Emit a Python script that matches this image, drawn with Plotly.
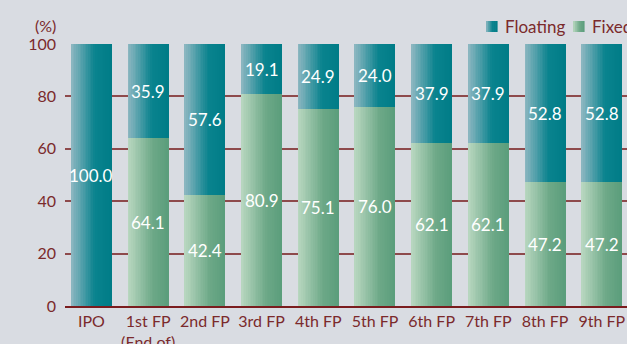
import plotly.graph_objects as go

# Interest rate mix per fiscal period (%)
periods = ["IPO", "1st FP<br>(End of)", "2nd FP", "3rd FP", "4th FP", "5th FP",
           "6th FP", "7th FP", "8th FP", "9th FP"]
fixed = [0.0, 64.1, 42.4, 80.9, 75.1, 76.0, 62.1, 62.1, 47.2, 47.2]
floating = [100.0, 35.9, 57.6, 19.1, 24.9, 24.0, 37.9, 37.9, 52.8, 52.8]
y_ticks = [0, 20, 40, 60, 80, 100]

MAROON = "#7b2a2c"
FONT = "Lato"
BAR_W = 0.723
N_SLICES = 24


def hex_rgb(h):
    h = h.lstrip("#")
    return tuple(int(h[i:i + 2], 16) for i in (0, 2, 4))


def ramp(stops, t):
    for (t0, c0), (t1, c1) in zip(stops, stops[1:]):
        if t <= t1:
            f = 0 if t1 == t0 else (t - t0) / (t1 - t0)
            a, b = hex_rgb(c0), hex_rgb(c1)
            return "rgb(%d,%d,%d)" % tuple(round(a[i] + (b[i] - a[i]) * f) for i in range(3))
    return "rgb(%d,%d,%d)" % hex_rgb(stops[-1][1])


float_stops = [(0.0, "#8fb8c2"), (0.58, "#0a838e"), (1.0, "#007c87")]
fixed_stops = [(0.0, "#bad8c1"), (0.62, "#6ca887"), (1.0, "#5a9d7b")]

x = list(range(len(periods)))
fig = go.Figure()

# Each bar is painted as thin overlapping vertical slices to get a left-to-right shade
step = BAR_W / N_SLICES
for values, base, stops in ((fixed, [0] * len(fixed), fixed_stops),
                            (floating, fixed, float_stops)):
    for k in range(N_SLICES):
        t = (k + 0.5) / N_SLICES
        w = min(step * 1.6, BAR_W - k * step)
        fig.add_trace(go.Bar(
            x=x, y=values, base=base,
            offset=-BAR_W / 2 + k * step, width=w,
            marker=dict(color=ramp(stops, t), line=dict(width=0)),
            showlegend=False, hoverinfo="skip",
        ))

# Value labels centred in each segment
annotations = []
for i in x:
    for v, b in ((fixed[i], 0), (floating[i], fixed[i])):
        if v > 0:
            annotations.append(dict(
                x=i, y=b + v / 2, xref="x", yref="y", text=f"{v:.1f}",
                showarrow=False, font=dict(family=FONT, size=17, color="white"),
            ))

# Unit label above the y axis
annotations.append(dict(
    x=0, y=1, xref="paper", yref="paper", xanchor="right", yanchor="middle",
    xshift=-7, yshift=19, text="(%)", showarrow=False,
    font=dict(family=FONT, size=16, color=MAROON),
))

# Legend keys
PW, PH = 562.0, 262.0
shapes = []
legend_items = [("Floating", float_stops, 486), ("Fixed", fixed_stops, 573)]
for name, stops, px in legend_items:
    n = 6
    for k in range(n):
        x0 = (px - 65 + k * 11 / n) / PW
        x1 = (px - 65 + (k + 1) * 11 / n + 0.6) / PW
        shapes.append(dict(
            type="rect", xref="paper", yref="paper", x0=x0, x1=x1,
            y0=(306 - 32) / PH, y1=(306 - 21) / PH,
            fillcolor=ramp(stops, (k + 0.5) / n), line=dict(width=0), layer="above",
        ))
    annotations.append(dict(
        x=(px + 17 - 65) / PW, y=(306 - 27) / PH, xref="paper", yref="paper",
        xanchor="left", yanchor="middle", text=name, showarrow=False,
        font=dict(family=FONT, size=17, color=MAROON),
    ))

fig.update_layout(
    width=627, height=344,
    margin=dict(l=65, r=0, t=44, b=38),
    paper_bgcolor="#d9dce2", plot_bgcolor="#d9dce2",
    barmode="overlay", bargap=0,
    annotations=annotations, shapes=shapes,
    showlegend=False,
    font=dict(family=FONT, color=MAROON),
)
fig.update_xaxes(
    range=[-0.467, 9.445], tickmode="array", tickvals=x, ticktext=periods,
    showgrid=False, showline=True, linecolor="#7a1c1e", linewidth=2,
    tickfont=dict(family=FONT, size=16, color=MAROON), ticks="",
    automargin=False, fixedrange=True,
)
fig.update_yaxes(
    range=[0, 100], tickmode="array", tickvals=y_ticks,
    showgrid=True, gridcolor="#8e4a4c", gridwidth=2, zeroline=False,
    tickfont=dict(family=FONT, size=16, color=MAROON), ticklabelstandoff=8,
    automargin=False, fixedrange=True,
)

fig.write_html("out.html")
